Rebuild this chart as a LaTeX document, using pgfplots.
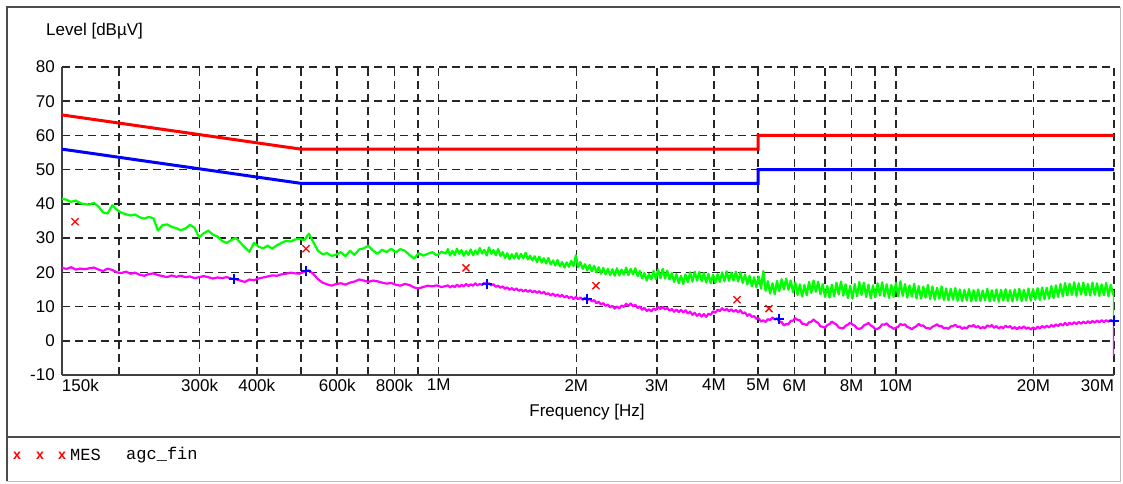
\documentclass[border=0pt]{standalone}
\usepackage{fontspec}
\setmainfont{Liberation Sans}
\newfontfamily\monofont{Liberation Mono}
\usepackage{pgfplots}
\usepackage{pgfplotstable}
\pgfplotsset{compat=1.18}
% x = log10(frequency / Hz), y = level in dBuV
\pgfplotstableread{
x y
5.1761 41.5
5.186 41.2
5.196 40.6
5.206 41.0
5.216 40.2
5.226 39.9
5.236 39.8
5.246 40.3
5.256 39.2
5.266 37.5
5.276 37.2
5.286 39.6
5.296 38.3
5.306 37.4
5.316 37.0
5.326 36.6
5.336 36.9
5.346 36.1
5.356 35.7
5.366 36.2
5.376 35.8
5.386 32.2
5.396 33.8
5.406 34.0
5.416 33.3
5.426 32.9
5.436 32.3
5.446 32.8
5.456 33.9
5.466 33.0
5.476 30.2
5.486 31.4
5.496 32.2
5.506 31.0
5.516 30.5
5.526 29.2
5.536 28.6
5.546 29.4
5.556 30.1
5.566 28.7
5.576 27.3
5.586 26.0
5.596 28.6
5.606 27.5
5.616 27.0
5.626 27.8
5.636 26.9
5.646 27.9
5.656 28.6
5.666 29.2
5.676 29.0
5.686 29.6
5.696 29.8
5.706 29.4
5.716 31.3
5.726 28.8
5.736 26.3
5.746 25.3
5.756 25.6
5.766 24.8
5.776 25.2
5.786 25.9
5.796 24.7
5.806 26.3
5.816 25.1
5.826 26.7
5.836 27.0
5.846 27.8
5.856 26.4
5.866 25.4
5.876 26.6
5.886 25.9
5.896 26.9
5.906 25.8
5.916 26.8
5.926 26.3
5.936 25.1
5.946 24.0
5.956 25.6
5.966 24.9
5.976 25.4
5.986 25.9
5.996 24.9
6.006 26.0
6.016 25.5
6.020 26.8
6.025 24.9
6.030 26.3
6.035 25.0
6.040 26.9
6.045 25.4
6.050 26.5
6.055 24.8
6.060 26.2
6.065 25.1
6.070 26.7
6.075 25.0
6.080 26.4
6.085 25.3
6.090 27.1
6.095 25.5
6.100 26.6
6.105 24.9
6.110 27.3
6.115 25.4
6.120 26.5
6.125 25.0
6.130 26.8
6.135 24.8
6.140 25.9
6.145 24.2
6.150 25.6
6.155 23.8
6.160 25.3
6.165 24.0
6.170 25.6
6.175 23.9
6.180 25.4
6.185 24.1
6.190 25.7
6.195 23.8
6.200 24.9
6.205 23.5
6.210 24.7
6.215 23.0
6.220 24.6
6.225 22.9
6.230 24.1
6.235 22.6
6.240 24.2
6.245 22.3
6.250 23.5
6.255 22.0
6.260 23.6
6.265 21.8
6.270 23.0
6.275 21.4
6.280 22.9
6.285 21.6
6.290 23.4
6.295 21.8
6.300 25.0
6.305 21.5
6.310 23.0
6.315 21.0
6.320 22.4
6.325 20.6
6.330 22.2
6.335 20.3
6.340 21.9
6.345 20.0
6.350 21.5
6.355 19.6
6.360 21.3
6.365 19.4
6.370 21.0
6.375 19.2
6.380 20.9
6.385 19.0
6.390 21.2
6.395 19.1
6.400 20.8
6.405 19.3
6.410 21.4
6.415 19.2
6.420 21.0
6.425 19.4
6.430 21.2
6.435 18.9
6.440 20.4
6.445 18.2
6.450 19.8
6.455 17.6
6.460 19.5
6.465 17.9
6.470 20.4
6.475 18.0
6.480 20.8
6.485 18.3
6.490 21.0
6.495 18.2
6.500 20.5
6.505 17.9
6.510 19.8
6.515 17.2
6.520 19.5
6.525 16.8
6.530 19.0
6.535 16.6
6.540 19.4
6.545 17.1
6.550 20.0
6.555 17.3
6.560 20.2
6.565 17.6
6.570 20.1
6.575 17.4
6.580 19.8
6.585 17.0
6.590 19.6
6.595 16.8
6.600 19.3
6.605 16.9
6.610 19.5
6.615 17.2
6.620 20.0
6.625 17.4
6.630 20.3
6.635 17.5
6.640 19.9
6.645 17.6
6.650 20.2
6.655 17.3
6.660 20.0
6.665 16.9
6.670 19.4
6.675 16.5
6.680 19.0
6.685 15.9
6.690 18.6
6.695 15.6
6.700 18.8
6.705 15.2
6.710 20.4
6.715 14.6
6.720 17.4
6.725 13.8
6.730 16.8
6.735 13.6
6.740 17.5
6.745 14.5
6.750 18.0
6.755 15.0
6.760 18.2
6.765 14.9
6.770 17.6
6.775 14.2
6.780 17.0
6.785 13.4
6.790 16.5
6.795 12.9
6.800 16.3
6.805 13.3
6.810 17.2
6.815 14.0
6.820 17.6
6.825 14.3
6.830 17.3
6.835 13.6
6.840 16.6
6.845 12.8
6.850 16.0
6.855 12.6
6.860 16.4
6.865 13.0
6.870 17.0
6.875 13.5
6.880 17.3
6.885 13.2
6.890 16.5
6.895 12.5
6.900 16.1
6.905 12.3
6.910 16.6
6.915 13.0
6.920 17.2
6.925 13.4
6.930 17.0
6.935 12.8
6.940 16.4
6.945 12.4
6.950 16.2
6.955 12.7
6.960 16.8
6.965 13.2
6.970 17.1
6.975 13.0
6.980 16.5
6.985 12.5
6.990 16.3
6.995 12.8
7.000 16.9
7.005 13.0
7.010 17.4
7.015 13.1
7.020 16.6
7.025 12.6
7.030 16.2
7.035 12.9
7.040 16.7
7.045 12.4
7.050 16.0
7.055 12.3
7.060 15.8
7.065 12.6
7.070 16.3
7.075 12.2
7.080 15.9
7.085 12.0
7.090 15.5
7.095 12.3
7.100 15.9
7.105 11.9
7.110 15.3
7.115 11.8
7.120 15.2
7.125 12.0
7.130 15.4
7.135 11.7
7.140 15.0
7.145 11.6
7.150 14.9
7.155 11.8
7.160 15.1
7.165 11.5
7.170 14.8
7.175 11.7
7.180 15.0
7.185 11.6
7.190 14.7
7.195 11.8
7.200 15.2
7.205 11.5
7.210 14.8
7.215 11.7
7.220 15.0
7.225 11.4
7.230 14.9
7.235 11.8
7.240 15.1
7.245 11.6
7.250 14.8
7.255 11.5
7.260 15.0
7.265 11.9
7.270 15.2
7.275 11.6
7.280 14.9
7.285 11.8
7.290 15.3
7.295 11.7
7.300 15.1
7.305 12.0
7.310 15.4
7.315 11.9
7.320 15.6
7.325 12.1
7.330 15.5
7.335 12.3
7.340 16.0
7.345 12.5
7.350 16.2
7.355 12.8
7.360 16.6
7.365 13.0
7.370 16.9
7.375 13.2
7.380 16.7
7.385 13.4
7.390 17.1
7.395 13.1
7.400 16.8
7.405 13.5
7.410 17.0
7.415 13.3
7.420 16.6
7.425 13.2
7.430 17.0
7.435 13.4
7.440 16.8
7.445 13.1
7.450 16.5
7.455 13.3
7.460 16.9
7.465 13.0
7.470 16.4
7.475 13.5
7.477 14.5
7.477 6.5
}\greentrace
\pgfplotstableread{
x y
5.1761 21.3
5.186 21.0
5.196 21.5
5.206 20.8
5.216 21.1
5.226 20.9
5.236 21.2
5.246 21.4
5.256 20.8
5.266 20.4
5.276 21.1
5.286 20.7
5.296 20.0
5.306 19.8
5.316 20.2
5.326 19.6
5.336 19.9
5.346 19.3
5.356 19.0
5.366 19.5
5.376 19.7
5.386 19.2
5.396 18.9
5.406 18.6
5.416 19.1
5.426 18.7
5.436 19.0
5.446 18.6
5.456 18.8
5.466 18.3
5.476 18.6
5.486 18.9
5.496 18.6
5.506 18.2
5.516 18.5
5.526 18.3
5.536 18.6
5.546 18.2
5.556 18.0
5.566 17.6
5.576 17.2
5.586 17.9
5.596 17.7
5.606 18.2
5.616 18.5
5.626 18.8
5.636 19.1
5.646 19.0
5.656 19.4
5.666 19.6
5.676 19.9
5.686 19.7
5.696 19.6
5.706 20.2
5.716 20.6
5.726 19.5
5.736 18.0
5.746 17.0
5.756 16.5
5.766 16.1
5.776 16.6
5.786 16.8
5.796 16.4
5.806 17.0
5.816 17.3
5.826 17.9
5.836 17.6
5.846 17.2
5.856 17.6
5.866 17.4
5.876 17.0
5.886 16.7
5.896 16.9
5.906 16.4
5.916 16.1
5.926 16.6
5.936 16.3
5.946 15.6
5.956 15.3
5.966 15.7
5.976 16.1
5.986 15.9
5.996 16.2
6.006 15.7
6.016 16.0
6.020 16.2
6.025 15.6
6.030 16.1
6.035 15.7
6.040 16.4
6.045 15.8
6.050 16.3
6.055 15.9
6.060 16.6
6.065 16.0
6.070 16.5
6.075 16.1
6.080 16.8
6.085 16.2
6.090 16.6
6.095 16.3
6.100 17.0
6.105 16.4
6.110 16.8
6.115 16.2
6.120 16.5
6.125 15.8
6.130 16.1
6.135 15.5
6.140 15.9
6.145 15.2
6.150 15.6
6.155 14.9
6.160 15.4
6.165 14.8
6.170 15.3
6.175 14.6
6.180 15.0
6.185 14.4
6.190 14.9
6.195 14.3
6.200 14.8
6.205 14.2
6.210 14.6
6.215 14.0
6.220 14.5
6.225 13.8
6.230 14.3
6.235 13.6
6.240 13.9
6.245 13.2
6.250 13.8
6.255 13.1
6.260 13.5
6.265 12.9
6.270 13.4
6.275 12.7
6.280 13.1
6.285 12.5
6.290 12.9
6.295 12.2
6.300 12.8
6.305 12.1
6.310 12.7
6.315 12.0
6.320 12.6
6.325 11.9
6.330 12.3
6.335 11.5
6.340 11.9
6.345 11.0
6.350 11.4
6.355 10.6
6.360 11.0
6.365 10.2
6.370 10.6
6.375 9.8
6.380 10.2
6.385 9.4
6.390 10.0
6.395 9.5
6.400 10.3
6.405 9.9
6.410 10.8
6.415 10.2
6.420 10.9
6.425 10.1
6.430 10.5
6.435 9.6
6.440 10.0
6.445 9.1
6.450 9.6
6.455 8.7
6.460 9.2
6.465 8.6
6.470 9.4
6.475 9.0
6.480 9.9
6.485 9.3
6.490 9.9
6.495 9.2
6.500 9.6
6.505 8.8
6.510 9.3
6.515 8.5
6.520 9.1
6.525 8.4
6.530 9.0
6.535 8.3
6.540 8.9
6.545 8.0
6.550 8.5
6.555 7.6
6.560 8.2
6.565 7.3
6.570 7.9
6.575 7.1
6.580 7.8
6.585 7.0
6.590 7.9
6.595 7.6
6.600 8.6
6.605 8.2
6.610 9.1
6.615 8.7
6.620 9.5
6.625 8.9
6.630 9.3
6.635 8.6
6.640 9.2
6.645 8.5
6.650 9.0
6.655 8.3
6.660 8.9
6.665 8.0
6.670 8.3
6.675 7.3
6.680 7.8
6.685 7.0
6.690 7.2
6.695 6.4
6.700 6.6
6.705 5.6
6.710 6.0
6.715 5.5
6.720 6.3
6.725 6.1
6.730 6.8
6.735 6.2
6.740 6.6
6.745 5.6
6.750 5.5
6.755 4.5
6.760 4.9
6.765 4.8
6.770 5.8
6.775 5.9
6.780 6.6
6.785 6.1
6.790 6.0
6.795 5.0
6.800 4.9
6.805 4.6
6.810 5.4
6.815 5.6
6.820 6.2
6.825 5.6
6.830 5.2
6.835 4.2
6.840 4.1
6.845 3.8
6.850 4.6
6.855 4.9
6.860 5.6
6.865 5.1
6.870 4.8
6.875 3.9
6.880 3.7
6.885 3.6
6.890 4.4
6.895 4.7
6.900 5.3
6.905 4.8
6.910 4.4
6.915 3.6
6.920 3.5
6.925 3.7
6.930 4.5
6.935 4.8
6.940 5.2
6.945 4.5
6.950 4.1
6.955 3.4
6.960 3.5
6.965 3.9
6.970 4.8
6.975 4.7
6.980 5.1
6.985 4.3
6.990 4.0
6.995 3.5
7.000 3.8
7.005 4.1
7.010 4.9
7.015 4.6
7.020 4.8
7.025 4.0
7.030 3.8
7.035 3.4
7.040 3.9
7.045 4.3
7.050 4.9
7.055 4.4
7.060 4.5
7.065 3.8
7.070 3.7
7.075 3.5
7.080 4.1
7.085 4.4
7.090 4.8
7.095 4.2
7.100 4.3
7.105 3.6
7.110 3.8
7.115 3.5
7.120 4.2
7.125 4.3
7.130 4.7
7.135 4.0
7.140 4.2
7.145 3.5
7.150 3.9
7.155 3.6
7.160 4.4
7.165 4.2
7.170 4.6
7.175 3.9
7.180 4.3
7.185 3.6
7.190 4.0
7.195 3.7
7.200 4.5
7.205 4.1
7.210 4.6
7.215 3.8
7.220 4.3
7.225 3.6
7.230 4.1
7.235 3.7
7.240 4.4
7.245 3.9
7.250 4.3
7.255 3.5
7.260 4.0
7.265 3.4
7.270 4.0
7.275 3.6
7.280 4.2
7.285 3.5
7.290 3.9
7.295 3.3
7.300 3.9
7.305 3.4
7.310 4.1
7.315 3.6
7.320 4.3
7.325 3.8
7.330 4.4
7.335 3.9
7.340 4.6
7.345 4.1
7.350 4.8
7.355 4.3
7.360 5.0
7.365 4.5
7.370 5.2
7.375 4.6
7.380 5.3
7.385 4.8
7.390 5.4
7.395 4.9
7.400 5.5
7.405 5.0
7.410 5.6
7.415 5.1
7.420 5.7
7.425 5.2
7.430 5.8
7.435 5.3
7.440 5.9
7.445 5.4
7.450 6.0
7.455 5.5
7.460 6.0
7.465 5.6
7.470 6.1
7.475 5.7
7.477 5.8
7.477 -4.4
}\magentatrace
\pgfplotstableread{
x y
5.17609 66
5.69897 56
6.69897 56
6.69897 60
7.47712 60
}\qplimit
\pgfplotstableread{
x y
5.17609 56
5.69897 46
6.69897 46
6.69897 50
7.47712 50
}\avlimit
\pgfplotstableread{
x y
5.2045 34.8
5.7098 26.9
6.0597 21.3
6.3440 16.1
6.6525 12.0
6.7225 9.4
}\mesqp
\pgfplotstableread{
x y
5.5523 18.1
5.7098 20.5
6.1057 16.7
6.3244 12.3
6.7444 6.4
7.4771 5.8
}\mesav
\definecolor{pgreen}{RGB}{0,255,0}
\definecolor{pmag}{RGB}{255,0,255}
\definecolor{pred}{RGB}{255,0,0}
\definecolor{pblue}{RGB}{0,0,255}
\begin{document}
\begin{tikzpicture}[x=1pt,y=1pt]
\useasboundingbox (-62,-108) rectangle (1061,375);
\fill[white] (-62,-108) rectangle (1061,375);
\draw[line width=1pt, black!25] (1058,368) -- (1058,-106) -- (-55,-106);
\draw[line width=2pt, black!70] (-55,-106) -- (-55,368) -- (1058,368);
\draw[line width=2pt, black!70] (-55,-62) -- (1058,-62);
\begin{axis}[
  at={(0,0)}, anchor=south west,
  scale only axis, width=1052pt, height=308pt,
  xmin=5.17609, xmax=7.47712, ymin=-10, ymax=80,
  axis x line*=bottom, axis y line*=left,
  axis line style={line width=2pt, black!75},
  xtick={5.17609,5.30103,5.47712,5.60206,5.69897,5.77815,5.84510,5.90309,5.95424,6,6.30103,6.47712,6.60206,6.69897,6.77815,6.84510,6.90309,6.95424,7,7.30103,7.47712},
  xticklabels={\makebox[0pt][l]{150k},,300k,400k,,600k,,800k,,1M,2M,3M,4M,5M,6M,,8M,,10M,20M,\makebox[0pt][r]{30M}},
  ytick={-10,0,10,20,30,40,50,60,70,80},
  major tick length=0pt,
  grid=major,
  major grid style={black!85, line width=1.6pt, dash pattern=on 8pt off 5pt},
  tick label style={font=\fontsize{17}{20}\selectfont},
  xticklabel style={inner sep=2pt, yshift=-2pt},
  yticklabel style={inner sep=2pt, xshift=-5pt},
  /pgf/number format/assume math mode=true,
  clip=true,
]
\addplot[pgreen, line width=2.2pt, line join=round] table {\greentrace};
\addplot[pmag, line width=2.2pt, line join=round] table {\magentatrace};
\addplot[pred, line width=3pt] table {\qplimit};
\addplot[pblue, line width=3pt] table {\avlimit};
\addplot[only marks, mark=x, mark size=5pt, pred, mark options={line width=1.3pt}] table {\mesqp};
\addplot[only marks, mark=+, mark size=5pt, pblue, mark options={line width=2.2pt}] table {\mesav};
\end{axis}
\node[anchor=west, inner sep=0pt, font=\fontsize{17}{20}\selectfont] at (-16,344) {Level [dBµV]};
\node[anchor=center, inner sep=0pt, font=\fontsize{17}{20}\selectfont] at (525,-37) {Frequency [Hz]};
\node[anchor=center, inner sep=0pt, text=pred, font=\monofont\bfseries\fontsize{14}{16}\selectfont] at (-45,-81) {x};
\node[anchor=center, inner sep=0pt, text=pred, font=\monofont\bfseries\fontsize{14}{16}\selectfont] at (-22,-81) {x};
\node[anchor=center, inner sep=0pt, text=pred, font=\monofont\bfseries\fontsize{14}{16}\selectfont] at (0,-81) {x};
\node[anchor=west, inner sep=0pt, font=\monofont\fontsize{17}{20}\selectfont] at (8,-80) {MES};
\node[anchor=west, inner sep=0pt, font=\monofont\fontsize{17}{20}\selectfont] at (64,-80) {agc\_fin};
\end{tikzpicture}
\end{document}
